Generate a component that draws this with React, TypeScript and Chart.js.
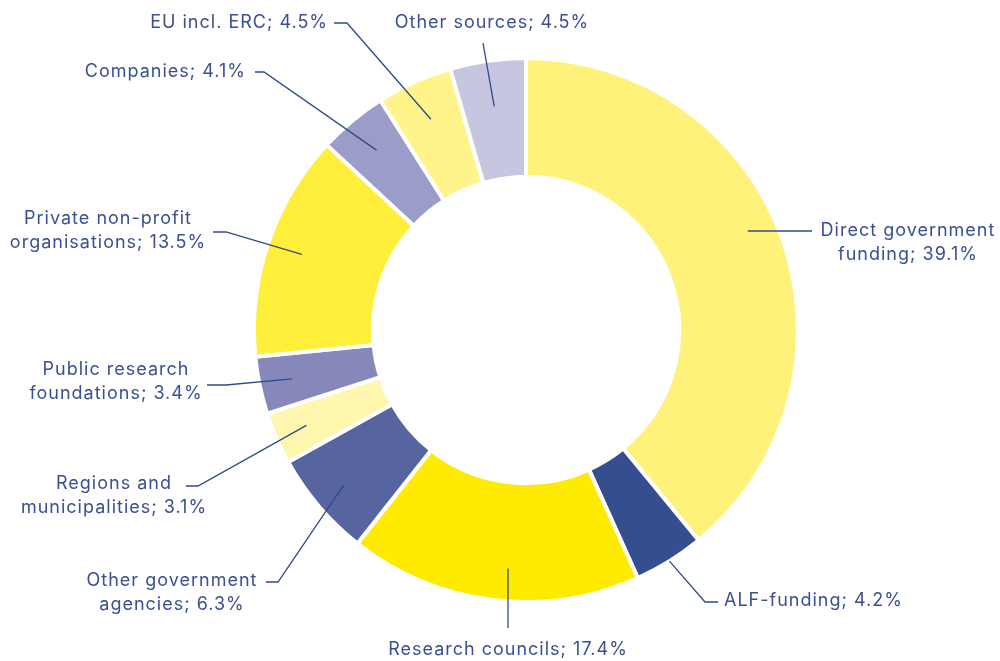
import React, { useEffect, useRef } from "react";
import { Chart, registerables } from "chart.js";

Chart.register(...registerables);

const categories = [
  "Direct government funding",
  "ALF-funding",
  "Research councils",
  "Other government agencies",
  "Regions and municipalities",
  "Public research foundations",
  "Private non-profit organisations",
  "Companies",
  "EU incl. ERC",
  "Other sources",
];

const shares = [39.1, 4.2, 17.4, 6.3, 3.1, 3.4, 13.5, 4.1, 4.5, 4.5];

const sliceColors = [
  "#fff27a",
  "#354e8f",
  "#ffeb00",
  "#5664a0",
  "#fff7ae",
  "#8788ba",
  "#ffee3a",
  "#9c9cc8",
  "#fff48a",
  "#c6c6e0",
];

const labelLines = [
  ["Direct government", "funding; 39.1%"],
  ["ALF-funding; 4.2%"],
  ["Research councils; 17.4%"],
  ["Other government", "agencies; 6.3%"],
  ["Regions and", "municipalities; 3.1%"],
  ["Public research", "foundations; 3.4%"],
  ["Private non-profit", "organisations; 13.5%"],
  ["Companies; 4.1%"],
  ["EU incl. ERC; 4.5%"],
  ["Other sources; 4.5%"],
];

// leader-line layout: radius factor of start point, start mode, elbow, end, text anchor
type Lay = {
  rf: number;
  mode: "mid" | "h" | "v";
  elbow: [number, number] | null;
  end: [number, number];
  tx: number;
  ty: number;
  align: CanvasTextAlign;
};
const layout: Lay[] = [
  { rf: 0.893, mode: "h", elbow: null, end: [812, 231], tx: 908, ty: 231, align: "center" },
  { rf: 1.0, mode: "mid", elbow: [705, 602], end: [718, 602], tx: 724, ty: 601, align: "left" },
  { rf: 0.879, mode: "v", elbow: null, end: [508, 628], tx: 508, ty: 650, align: "center" },
  { rf: 0.88, mode: "mid", elbow: [278, 582], end: [266, 582], tx: 172, ty: 581, align: "center" },
  { rf: 0.88, mode: "mid", elbow: [198, 486], end: [186, 486], tx: 114, ty: 484, align: "center" },
  { rf: 0.88, mode: "mid", elbow: [226, 385], end: [207, 385], tx: 116, ty: 370, align: "center" },
  { rf: 0.87, mode: "mid", elbow: [226, 232], end: [213, 232], tx: 108, ty: 219, align: "center" },
  { rf: 0.86, mode: "mid", elbow: [264, 72], end: [255, 72], tx: 246, ty: 72, align: "right" },
  { rf: 0.85, mode: "mid", elbow: [347, 23], end: [334, 23], tx: 328, ty: 23, align: "right" },
  { rf: 0.83, mode: "mid", elbow: null, end: [483, 43], tx: 492, ty: 23, align: "center" },
];

const TEXT_COLOR = "#3b4f93";
const LINE_COLOR = "#2f4a8a";
const FONT = "18px Inter, 'Noto Sans', sans-serif";

const leaderPlugin = {
  id: "leaders",
  afterDraw(chart: any) {
    const ctx: CanvasRenderingContext2D = chart.ctx;
    const meta = chart.getDatasetMeta(0);
    ctx.save();
    meta.data.forEach((arc: any, i: number) => {
      const L = layout[i];
      if (!L) return;
      const p = arc.getProps(["x", "y", "startAngle", "endAngle", "outerRadius"], true);
      const mid = (p.startAngle + p.endAngle) / 2;
      const r = p.outerRadius * L.rf;
      let sx = p.x + r * Math.cos(mid);
      let sy = p.y + r * Math.sin(mid);
      if (L.mode === "h") {
        sy = L.end[1];
        const dy = sy - p.y;
        sx = p.x + Math.sign(Math.cos(mid)) * Math.sqrt(Math.max(r * r - dy * dy, 0));
      } else if (L.mode === "v") {
        sx = L.end[0];
        const dx = sx - p.x;
        sy = p.y + Math.sign(Math.sin(mid)) * Math.sqrt(Math.max(r * r - dx * dx, 0));
      }
      ctx.strokeStyle = LINE_COLOR;
      ctx.lineWidth = 1.3;
      ctx.beginPath();
      ctx.moveTo(sx, sy);
      if (L.elbow) ctx.lineTo(L.elbow[0], L.elbow[1]);
      ctx.lineTo(L.end[0], L.end[1]);
      ctx.stroke();

      ctx.fillStyle = TEXT_COLOR;
      ctx.font = FONT;
      (ctx as any).letterSpacing = "1px";
      ctx.textAlign = L.align;
      ctx.textBaseline = "middle";
      labelLines[i].forEach((line, k) => {
        ctx.fillText(line, L.tx, L.ty + k * 24);
      });
    });
    ctx.restore();
  },
};

export default function App() {
  const ref = useRef<HTMLCanvasElement | null>(null);
  useEffect(() => {
    document.body.style.margin = "0";
    const canvas = ref.current;
    if (!canvas) return;
    const chart = new Chart(canvas, {
      type: "doughnut",
      data: {
        labels: categories,
        datasets: [
          {
            data: shares,
            backgroundColor: sliceColors,
            borderColor: "#ffffff",
            borderWidth: 4,
            hoverOffset: 0,
          },
        ],
      },
      options: {
        animation: false,
        responsive: true,
        maintainAspectRatio: false,
        cutout: "56.3%",
        layout: { padding: { left: 252, right: 200, top: 56, bottom: 57 } },
        plugins: {
          legend: { display: false },
          tooltip: { enabled: false },
        },
      },
      plugins: [leaderPlugin],
    });
    return () => chart.destroy();
  }, []);
  return (
    <div style={{ position: "absolute", left: 0, top: 0, width: 1000, height: 661, background: "#fff" }}>
      <canvas ref={ref} />
    </div>
  );
}
